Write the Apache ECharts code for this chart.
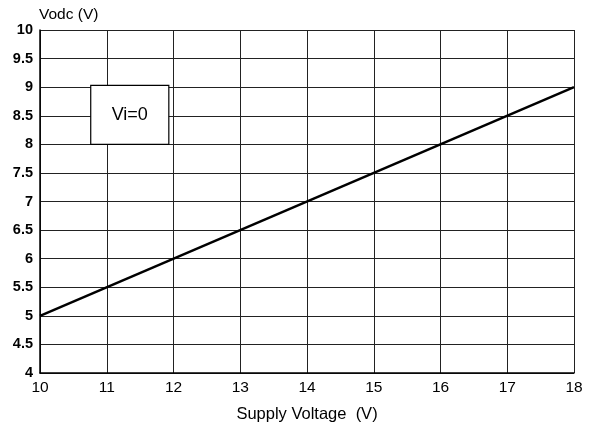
<!DOCTYPE html>
<html><head><meta charset="utf-8">
<script src="https://cdn.jsdelivr.net/npm/echarts@6/dist/echarts.min.js"></script>
<style>html,body{margin:0;padding:0;background:#fff}#c{width:593px;height:431px}</style>
</head><body><div id="c"></div>
<script>
var supplyVoltage = [10, 18];
var vodc = [5, 9];
var xTicks = [10, 11, 12, 13, 14, 15, 16, 17, 18];
var yTicks = [4, 4.5, 5, 5.5, 6, 6.5, 7, 7.5, 8, 8.5, 9, 9.5, 10];
var noteText = 'Vi=0';
var noteBox = [[10.76, 9.03], [11.93, 8.0]];

var chart = echarts.init(document.getElementById('c'));
var F = 'Liberation Sans, Arial, sans-serif';
chart.setOption({
  animation: false,
  grid: {left: 40, right: 19, top: 30, bottom: 58, containLabel: false},
  xAxis: {
    type: 'value', min: 10, max: 18, interval: 1,
    name: 'Supply Voltage  (V)', nameLocation: 'middle', nameGap: 33,
    nameTextStyle: {fontFamily: F, fontSize: 16.5, color: '#000'},
    axisLine: {lineStyle: {color: '#000', width: 1.5}},
    axisTick: {show: false},
    axisLabel: {fontFamily: F, fontSize: 15.5, color: '#000', margin: 7},
    splitLine: {show: true, lineStyle: {color: '#222', width: 1}}
  },
  yAxis: {
    type: 'value', min: 4, max: 10, interval: 0.5,
    name: 'Vodc (V)', nameLocation: 'end', nameGap: 7,
    nameTextStyle: {fontFamily: F, fontSize: 15.5, color: '#000', align: 'left', padding: [0, 0, 0, -1]},
    axisLine: {show: true, lineStyle: {color: '#000', width: 1.5}},
    axisTick: {show: false},
    axisLabel: {fontFamily: F, fontSize: 14.5, fontWeight: 'bold', color: '#000', margin: 7,
      formatter: function (v) { return String(v); }},
    splitLine: {show: true, lineStyle: {color: '#222', width: 1}}
  },
  series: [{
    type: 'line',
    data: supplyVoltage.map(function (x, i) { return [x, vodc[i]]; }),
    showSymbol: false,
    lineStyle: {color: '#000', width: 2.5},
    markArea: {
      silent: true,
      itemStyle: {color: '#fff', borderColor: '#000', borderWidth: 1.2, opacity: 1},
      label: {show: true, position: 'inside', fontFamily: F, fontSize: 18, color: '#000'},
      data: [[{xAxis: noteBox[0][0], yAxis: noteBox[0][1], name: noteText}, {xAxis: noteBox[1][0], yAxis: noteBox[1][1]}]]
    }
  }]
});
</script></body></html>
